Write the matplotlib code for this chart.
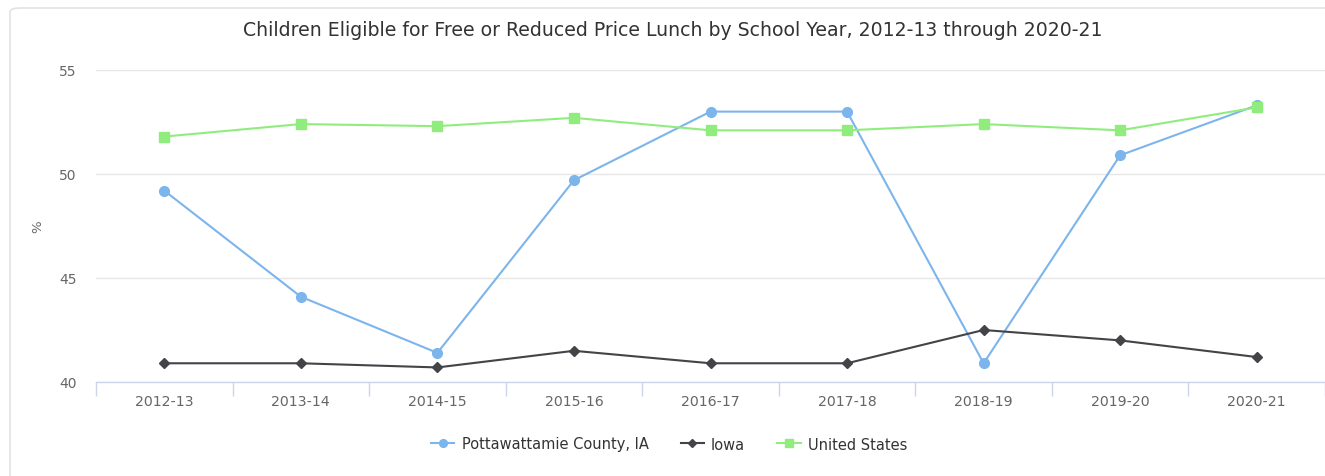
import numpy as np
import matplotlib
matplotlib.use("Agg")
import matplotlib.pyplot as plt
from matplotlib.patches import FancyBboxPatch

# School years and percentage of children eligible for free/reduced price lunch
years = ["2012-13", "2013-14", "2014-15", "2015-16", "2016-17",
         "2017-18", "2018-19", "2019-20", "2020-21"]
pottawattamie = [49.2, 44.1, 41.4, 49.7, 53.0, 53.0, 40.9, 50.9, 53.3]
iowa = [40.9, 40.9, 40.7, 41.5, 40.9, 40.9, 42.5, 42.0, 41.2]
united_states = [51.8, 52.4, 52.3, 52.7, 52.1, 52.1, 52.4, 52.1, 53.2]

W, H = 1325, 477
fig = plt.figure(figsize=(W / 100, H / 100), dpi=100)
fig.patch.set_facecolor("white")

# light card border around the chart (runs off the bottom and right edges)
card = FancyBboxPatch((10 / W, -0.5), 1.2, 1.5 - 9 / H, boxstyle="round,pad=0,rounding_size=0.008",
                      transform=fig.transFigure, fc="none", ec="#e3e3e3", lw=1.2)
fig.patches.append(card)

ax = fig.add_axes([96 / W, (H - 383) / H, (1325 - 96) / W, (383 - 71) / H])
x = np.arange(len(years))

ax.plot(x, pottawattamie, color="#7cb5ec", lw=1.5, marker="o", ms=7,
        label="Pottawattamie County, IA", zorder=3)
ax.plot(x, iowa, color="#434348", lw=1.5, marker="D", ms=5.5,
        label="Iowa", zorder=3)
ax.plot(x, united_states, color="#90ed7d", lw=1.5, marker="s", ms=7.5,
        label="United States", zorder=4)

ax.set_xlim(-0.5, len(years) - 0.5)
ax.set_ylim(40, 55)
ax.set_yticks([40, 45, 50, 55])
ax.grid(axis="y", color="#e6e6e6", lw=1)
ax.set_axisbelow(True)

# category labels at centres, tick marks on the category edges
ax.set_xticks(x)
ax.set_xticklabels(years, color="#666666", fontsize=10.2)
ax.set_xticks(np.arange(len(years) + 1) - 0.5, minor=True)
ax.tick_params(axis="x", which="major", length=0, pad=9)
ax.tick_params(axis="x", which="minor", length=10, color="#ccd6eb", width=1)
ax.tick_params(axis="y", length=0, labelcolor="#666666", labelsize=10, pad=14)

for side in ["top", "right", "left"]:
    ax.spines[side].set_visible(False)
ax.spines["bottom"].set_color("#ccd6eb")
ax.spines["bottom"].set_linewidth(1)

fig.text(38 / W, 1 - 227 / H, "%", rotation=90, color="#666666", fontsize=9.5,
         ha="center", va="center")

fig.text(673 / W, 1 - 31 / H,
         "Children Eligible for Free or Reduced Price Lunch by School Year, 2012-13 through 2020-21",
         ha="center", va="center", color="#333333", fontsize=13.6)

leg = fig.legend(loc="center", bbox_to_anchor=(0.505, 1 - 445 / H), ncol=3, frameon=False,
                 fontsize=10.5, handlelength=1.6, columnspacing=2.2, handletextpad=0.5,
                 markerscale=0.8)
for t in leg.get_texts():
    t.set_color("#333333")

fig.savefig("out.png", dpi=100, facecolor="white")
